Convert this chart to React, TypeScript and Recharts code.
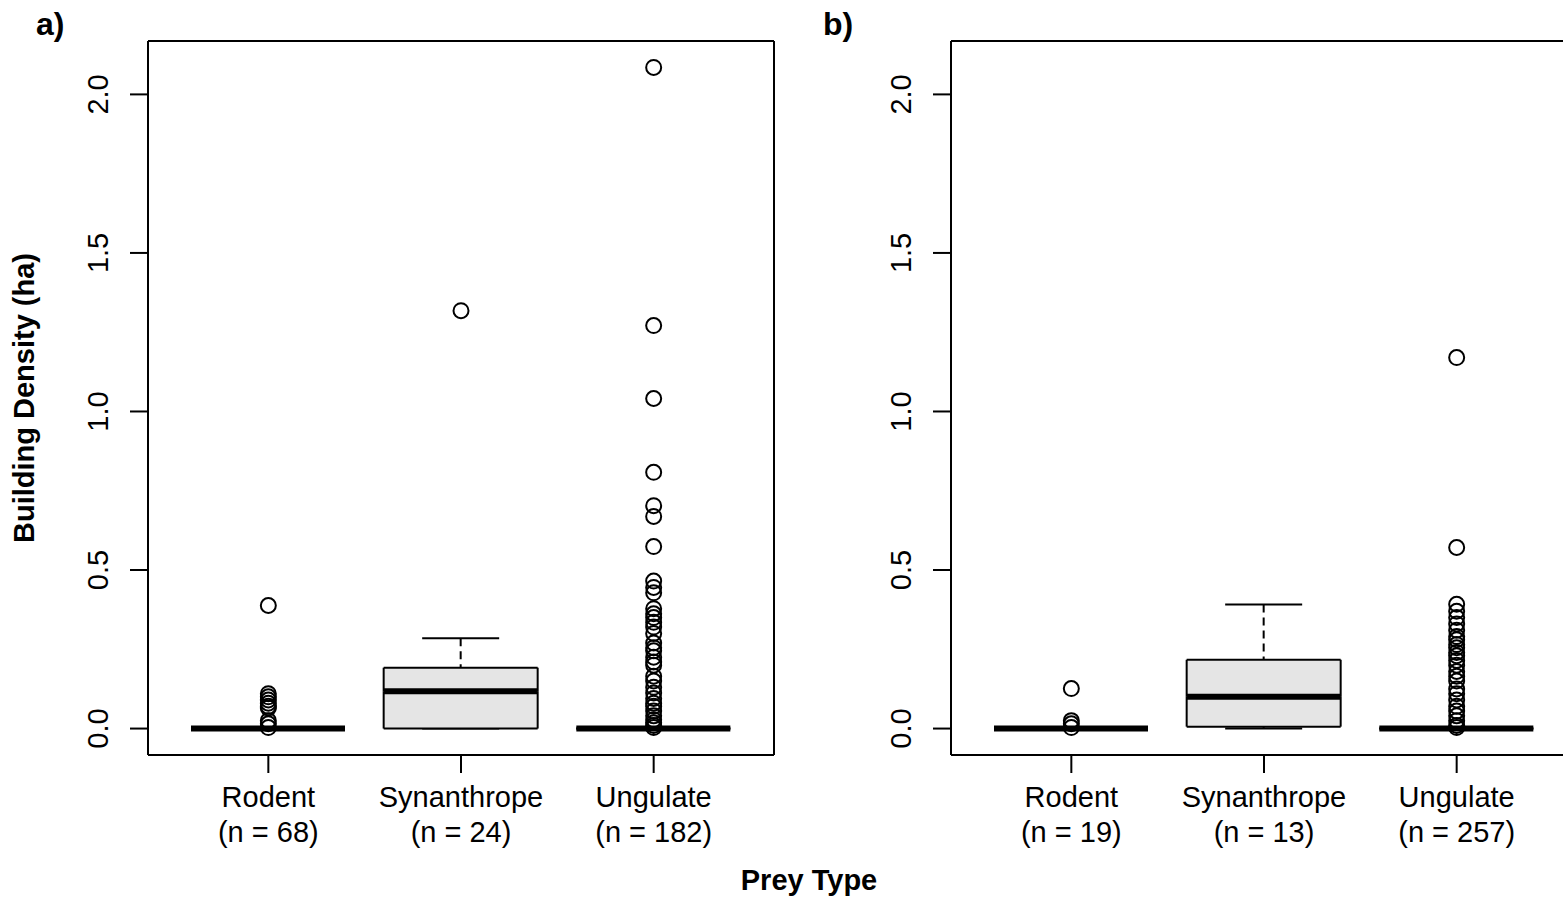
import { ComposedChart, Bar, Scatter, XAxis, YAxis } from "recharts";

const categories = ["Rodent", "Synanthrope", "Ungulate"];
const countsA = [68, 24, 182];
const countsB = [19, 13, 257];

// [lower whisker, Q1, median, Q3, upper whisker]
const statsA = [
  [0, 0, 0, 0, 0],
  [0, 0, 0.118, 0.192, 0.285],
  [0, 0, 0, 0, 0],
];
const statsB = [
  [0, 0, 0, 0, 0],
  [0, 0.006, 0.1, 0.217, 0.391],
  [0, 0, 0, 0, 0],
];

const outliersA = [
  [0.388, 0.11, 0.1, 0.09, 0.08, 0.07, 0.065, 0.025, 0.015, 0.003],
  [1.318],
  [
    2.085, 1.271, 1.041, 0.808, 0.703, 0.669, 0.574, 0.465, 0.445, 0.428, 0.378,
    0.362, 0.35, 0.335, 0.32, 0.3, 0.27, 0.255, 0.245, 0.225, 0.21, 0.2, 0.165,
    0.15, 0.13, 0.112, 0.095, 0.08, 0.07, 0.055, 0.04, 0.028, 0.018, 0.01, 0.003,
  ],
];
const outliersB = [
  [0.126, 0.025, 0.015, 0.003],
  [],
  [
    1.17, 0.571, 0.392, 0.37, 0.35, 0.33, 0.31, 0.29, 0.28, 0.265, 0.255, 0.24,
    0.23, 0.215, 0.2, 0.18, 0.165, 0.15, 0.125, 0.11, 0.09, 0.07, 0.055, 0.04,
    0.025, 0.01, 0.003,
  ],
];

const yTicks = [0, 0.5, 1, 1.5, 2];
const yDomain = [-0.0834, 2.1684];

const FONT = "'Liberation Sans', Arial, Helvetica, sans-serif";
const FS = 29;
const BOX_FILL = "#e5e5e5";

const LowWhisker = (p: any) => {
  const { x, y, width, height } = p;
  const cx = x + width / 2;
  const bottom = y + height;
  return (
    <g>
      <line x1={cx} x2={cx} y1={y} y2={bottom} stroke="#000" strokeWidth={2} strokeDasharray="8 5" />
      <line x1={cx - width / 4} x2={cx + width / 4} y1={bottom} y2={bottom} stroke="#000" strokeWidth={2} />
    </g>
  );
};

const HighWhisker = (p: any) => {
  const { x, y, width, height } = p;
  const cx = x + width / 2;
  const bottom = y + height;
  return (
    <g>
      <line x1={cx} x2={cx} y1={y} y2={bottom} stroke="#000" strokeWidth={2} strokeDasharray="8 5" />
      <line x1={cx - width / 4} x2={cx + width / 4} y1={y} y2={y} stroke="#000" strokeWidth={2} />
    </g>
  );
};

const LowBox = (p: any) => {
  const { x, y, width, height } = p;
  const bottom = y + height;
  return (
    <g>
      <rect x={x} y={y} width={width} height={Math.max(height, 0)} fill={BOX_FILL} />
      <line x1={x} x2={x} y1={y} y2={bottom} stroke="#000" strokeWidth={2} />
      <line x1={x + width} x2={x + width} y1={y} y2={bottom} stroke="#000" strokeWidth={2} />
      <line x1={x} x2={x + width} y1={bottom} y2={bottom} stroke="#000" strokeWidth={2} />
    </g>
  );
};

const HighBox = (p: any) => {
  const { x, y, width, height } = p;
  const bottom = y + height;
  return (
    <g>
      <rect x={x} y={y} width={width} height={Math.max(height, 0)} fill={BOX_FILL} />
      <line x1={x} x2={x} y1={y} y2={bottom} stroke="#000" strokeWidth={2} />
      <line x1={x + width} x2={x + width} y1={y} y2={bottom} stroke="#000" strokeWidth={2} />
      <line x1={x} x2={x + width} y1={y} y2={y} stroke="#000" strokeWidth={2} />
      {/* median */}
      <line x1={x} x2={x + width} y1={bottom} y2={bottom} stroke="#000" strokeWidth={6} />
    </g>
  );
};

const Circle = (p: any) => (
  <circle cx={p.cx} cy={p.cy} r={7.5} fill="none" stroke="#000" strokeWidth={2} />
);

const YTick = (p: any) => {
  const { x, y, payload } = p;
  return (
    <text
      x={x}
      y={y}
      transform={`rotate(-90, ${x}, ${y})`}
      textAnchor="middle"
      fontSize={FS}
      fontFamily={FONT}
      fill="#000"
    >
      {payload.value.toFixed(1)}
    </text>
  );
};

const makeXTick = (counts: number[]) => (p: any) => {
  const { x, y, payload } = p;
  const i = categories.indexOf(payload.value);
  return (
    <g>
      <text x={x} y={y + 34} textAnchor="middle" fontSize={FS} fontFamily={FONT} fill="#000">
        {payload.value}
      </text>
      <text x={x} y={y + 69} textAnchor="middle" fontSize={FS} fontFamily={FONT} fill="#000">
        {`(n = ${counts[i]})`}
      </text>
    </g>
  );
};

const BoxPanel = ({ stats, outliers, counts }: { stats: number[][]; outliers: number[][]; counts: number[] }) => {
  const rows = categories.map((cat, i) => {
    const s = stats[i];
    return {
      cat,
      floor: s[0],
      lowW: s[1] - s[0],
      lowBox: s[2] - s[1],
      highBox: s[3] - s[2],
      highW: s[4] - s[3],
    };
  });
  const points = categories.flatMap((cat, i) => outliers[i].map((v) => ({ cat, v })));

  return (
    <ComposedChart width={790} height={899} data={rows} margin={{ top: 40, right: 15, bottom: 0, left: 0 }}>
      <XAxis
        dataKey="cat"
        type="category"
        allowDuplicatedCategory={false}
        padding={{ left: 24, right: 24 }}
        height={144}
        tickSize={18}
        tickMargin={0}
        axisLine={{ stroke: "#000", strokeWidth: 2 }}
        tickLine={{ stroke: "#000", strokeWidth: 2 }}
        tick={makeXTick(counts)}
        interval={0}
      />
      <XAxis
        xAxisId="top"
        dataKey="cat"
        orientation="top"
        height={1}
        tick={false}
        tickLine={false}
        axisLine={{ stroke: "#000", strokeWidth: 2 }}
      />
      <YAxis
        type="number"
        domain={yDomain}
        allowDataOverflow
        ticks={yTicks}
        width={148}
        tickSize={18}
        tickMargin={22}
        axisLine={{ stroke: "#000", strokeWidth: 2 }}
        tickLine={{ stroke: "#000", strokeWidth: 2 }}
        tick={YTick}
      />
      <YAxis
        yAxisId="right"
        orientation="right"
        width={1}
        tick={false}
        tickLine={false}
        axisLine={{ stroke: "#000", strokeWidth: 2 }}
      />
      <Bar dataKey="floor" stackId="box" fill="transparent" barSize={154} isAnimationActive={false} />
      <Bar dataKey="lowW" stackId="box" shape={LowWhisker} barSize={154} isAnimationActive={false} />
      <Bar dataKey="lowBox" stackId="box" shape={LowBox} barSize={154} isAnimationActive={false} />
      <Bar dataKey="highBox" stackId="box" shape={HighBox} barSize={154} isAnimationActive={false} />
      <Bar dataKey="highW" stackId="box" shape={HighWhisker} barSize={154} isAnimationActive={false} />
      <Scatter data={points} dataKey="v" shape={Circle} isAnimationActive={false} />
    </ComposedChart>
  );
};

export default function App() {
  return (
    <div
      style={{
        position: "fixed",
        left: 0,
        top: 0,
        width: 1563,
        height: 899,
        overflow: "hidden",
        background: "#fff",
      }}
    >
      <div style={{ position: "absolute", left: 0, top: 0 }}>
        <BoxPanel stats={statsA} outliers={outliersA} counts={countsA} />
      </div>
      <div style={{ position: "absolute", left: 803, top: 0 }}>
        <BoxPanel stats={statsB} outliers={outliersB} counts={countsB} />
      </div>
      <svg
        width={1563}
        height={899}
        style={{ position: "absolute", left: 0, top: 0, pointerEvents: "none" }}
        fontFamily={FONT}
      >
        <text x={36} y={35} fontSize={32} fontWeight="bold">a)</text>
        <text x={823} y={35} fontSize={32} fontWeight="bold">b)</text>
        <text x={809} y={890} fontSize={FS} fontWeight="bold" textAnchor="middle">Prey Type</text>
        <text
          x={34}
          y={398}
          fontSize={FS}
          fontWeight="bold"
          textAnchor="middle"
          transform="rotate(-90, 34, 398)"
        >
          Building Density (ha)
        </text>
      </svg>
    </div>
  );
}
